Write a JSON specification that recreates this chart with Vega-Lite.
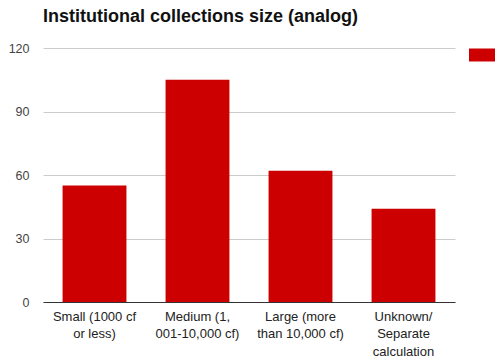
{
  "$schema": "https://vega.github.io/schema/vega-lite/v6.json",
  "width": 412,
  "height": 254,
  "autosize": "none",
  "padding": {"left": 43, "top": 48, "right": 40, "bottom": 56},
  "background": "white",
  "config": {
    "font": "Liberation Sans",
    "view": {"stroke": null}
  },
  "title": {
    "text": "Institutional collections size (analog)",
    "anchor": "start",
    "frame": "group",
    "font": "Liberation Sans",
    "fontSize": 18,
    "fontWeight": "bold",
    "color": "#111111",
    "offset": 16
  },
  "data": {
    "values": [
      {"size": "Small (1000 cf\nor less)", "count": 55},
      {"size": "Medium (1,\n001-10,000 cf)", "count": 105},
      {"size": "Large (more\nthan 10,000 cf)", "count": 62},
      {"size": "Unknown/\nSeparate\ncalculation", "count": 44}
    ]
  },
  "mark": {"type": "bar", "color": "#cc0000"},
  "encoding": {
    "x": {
      "field": "size",
      "type": "nominal",
      "sort": null,
      "scale": {"paddingInner": 0.38, "paddingOuter": 0.19},
      "axis": {
        "title": null,
        "labelAngle": 0,
        "labelExpr": "split(datum.label, '\\n')",
        "labelFontSize": 13,
        "labelColor": "#222222",
        "labelPadding": 8,
        "labelLineHeight": 17.5,
        "ticks": false,
        "domainColor": "#333333",
        "domainWidth": 1
      }
    },
    "y": {
      "field": "count",
      "type": "quantitative",
      "scale": {"domain": [0, 120], "nice": false},
      "axis": {
        "title": null,
        "values": [0, 30, 60, 90, 120],
        "labelFontSize": 12.5,
        "labelColor": "#444444",
        "labelPadding": 14,
        "ticks": false,
        "domain": false,
        "gridColor": "#cccccc"
      }
    },
    "color": {
      "datum": "Count",
      "scale": {"range": ["#cc0000"]},
      "legend": {
        "title": null,
        "orient": "none",
        "legendX": 426,
        "legendY": -6,
        "symbolType": "M-1,-0.5H1V0.5H-1Z",
        "symbolSize": 676,
        "symbolStrokeWidth": 0,
        "labelExpr": "''"
      }
    }
  }
}
